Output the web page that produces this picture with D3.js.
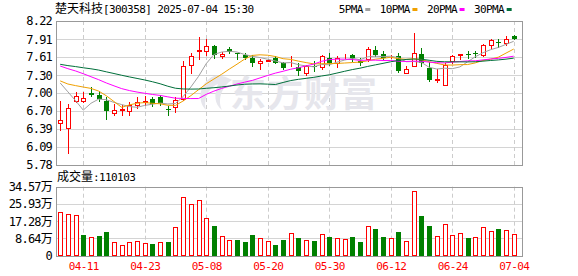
<!DOCTYPE html>
<html>
<head>
<meta charset="utf-8">
<script src="https://cdn.jsdelivr.net/npm/d3@7"></script>
<style>
  html, body { margin: 0; padding: 0; background: #fff; }
  svg { display: block; }
  text { font-family: "DejaVu Sans Mono", "Noto Sans CJK SC", monospace; font-size: 11px; letter-spacing: -0.6px; fill: #000; }
</style>
</head>
<body>
<svg id="chart" width="578" height="276"></svg>
<script>
const title = "楚天科技[300358] 2025-07-04 15:30";

const dates = [
  "04-08", "04-09", "04-10", "04-11", "04-14", "04-15", "04-16", "04-17", "04-18", "04-21",
  "04-22", "04-23", "04-24", "04-25", "04-28", "04-29", "04-30", "05-06", "05-07", "05-08",
  "05-09", "05-12", "05-13", "05-14", "05-15", "05-16", "05-19", "05-20", "05-21", "05-22",
  "05-23", "05-26", "05-27", "05-28", "05-29", "05-30", "06-03", "06-04", "06-05", "06-06",
  "06-09", "06-10", "06-11", "06-12", "06-13", "06-16", "06-17", "06-18", "06-19", "06-20",
  "06-23", "06-24", "06-25", "06-26", "06-27", "06-30", "07-01", "07-02", "07-03", "07-04"
];

const open = [
  6.49, 6.40, 6.87, 6.87, 7.00, 6.97, 6.87, 6.66, 6.72, 6.69,
  6.79, 6.85, 6.89, 6.93, 6.73, 6.76, 6.89, 7.47, 7.72, 7.71,
  7.79, 7.62, 7.74, 7.67, 7.65, 7.59, 7.50, 7.55, 7.59, 7.50,
  7.52, 7.44, 7.34, 7.46, 7.44, 7.59, 7.51, 7.62, 7.64, 7.55,
  7.58, 7.73, 7.66, 7.62, 7.63, 7.34, 7.45, 7.66, 7.43, 7.225,
  7.14, 7.54, 7.65, 7.66, 7.67, 7.64, 7.82, 7.86, 7.84, 7.96
];
const high = [
  6.86, 6.82, 7.02, 7.01, 7.10, 7.03, 6.93, 6.81, 6.80, 6.85,
  6.93, 6.95, 6.93, 6.96, 6.78, 6.93, 7.55, 7.67, 7.95, 7.92,
  7.81, 7.70, 7.78, 7.68, 7.67, 7.64, 7.58, 7.57, 7.62, 7.53,
  7.62, 7.50, 7.48, 7.54, 7.65, 7.68, 7.63, 7.66, 7.66, 7.59,
  7.78, 7.80, 7.71, 7.64, 7.67, 7.46, 8.02, 7.76, 7.52, 7.41,
  7.51, 7.64, 7.66, 7.71, 7.72, 7.83, 7.91, 7.92, 7.97, 7.98
];
const low = [
  6.38, 5.99, 6.85, 6.85, 6.95, 6.87, 6.56, 6.62, 6.63, 6.63,
  6.75, 6.80, 6.78, 6.80, 6.63, 6.68, 6.88, 7.34, 7.58, 7.64,
  7.59, 7.60, 7.67, 7.58, 7.57, 7.46, 7.41, 7.54, 7.50, 7.41,
  7.46, 7.31, 7.30, 7.38, 7.40, 7.48, 7.44, 7.59, 7.54, 7.48,
  7.55, 7.62, 7.57, 7.60, 7.35, 7.34, 7.45, 7.45, 7.21, 7.19,
  7.13, 7.50, 7.57, 7.59, 7.61, 7.62, 7.76, 7.78, 7.81, 7.91
];
const close = [
  6.55, 6.75, 6.95, 6.91, 6.97, 6.90, 6.70, 6.72, 6.73, 6.80,
  6.84, 6.86, 6.82, 6.83, 6.72, 6.88, 7.45, 7.63, 7.73, 7.80,
  7.65, 7.66, 7.70, 7.66, 7.59, 7.50, 7.55, 7.56, 7.51, 7.43,
  7.53, 7.37, 7.45, 7.44, 7.63, 7.50, 7.59, 7.63, 7.59, 7.51,
  7.74, 7.65, 7.59, 7.63, 7.38, 7.40, 7.67, 7.51, 7.22, 7.23,
  7.47, 7.63, 7.66, 7.65, 7.66, 7.81, 7.89, 7.85, 7.91, 7.92
];
// closes of the 29 sessions before 04-08, estimated from where the MA lines start
const earlierCloses = [
  7.40, 7.45, 7.52, 7.48, 7.55, 7.60, 7.58, 7.62, 7.63, 7.61,
  7.65, 7.72, 7.85, 7.98, 7.90, 7.82, 7.70, 7.67, 7.45, 7.35,
  7.28, 7.22, 7.15, 7.20, 7.35, 7.50, 7.70, 7.71, 6.39
];
// 万
const volume = [
  21.8, 20.8, 20.3, 10.4, 9.3, 9.9, 11.9, 6.8, 5.3, 6.8,
  7.3, 6.3, 5.9, 6.8, 6.9, 14.3, 29.3, 25.8, 27.8, 18.8,
  14.9, 9.8, 7.8, 7.9, 6.9, 10.4, 8.8, 7.3, 5.4, 7.9,
  11.3, 8.9, 7.8, 7.4, 10.8, 9.4, 8.8, 8.3, 9.4, 6.6,
  14.8, 13.4, 9.4, 8.8, 11.9, 7.4, 32.3, 19.9, 14.9, 9.8,
  15.9, 10.3, 11.4, 8.9, 9.3, 14.3, 12.3, 13.4, 12.8, 11.0103
];
const lastVolume = "110103";

const priceTicks = [5.78, 6.09, 6.39, 6.70, 7.00, 7.30, 7.61, 7.91, 8.22];
const volumeTicks = [0, 8.64, 17.28, 25.93, 34.57];
const dateTicks = ["04-11", "04-23", "05-08", "05-20", "05-30", "06-12", "06-24", "07-04"];

const maPeriods = [5, 10, 20, 30];
const maNames = ["5PMA", "10PMA", "20PMA", "30PMA"];
const maColors = ["#a0a0a0", "#f0a000", "#ff00ff", "#006f3a"];

const UP = "#ff0000";
const DOWN = "#008000";

const svg = d3.select("#chart");
const left = 56, right = 522;
const priceTop = 21, priceBottom = 165;
const volTop = 186.7, volBottom = 255.6;

const x = d3.scalePoint().domain(dates).range([60.2, 513.7]);
const yPrice = d3.scaleLinear().domain([5.78, 8.22]).range([priceBottom, priceTop]);
const yVol = d3.scaleLinear().domain([0, 34.57]).range([volBottom, volTop]);

const crisp = (v) => Math.round(v) + 0.5;

const allCloses = earlierCloses.concat(close);
const offset = earlierCloses.length;
const maSeries = maPeriods.map((n) =>
  close.map((_, i) => d3.mean(allCloses.slice(offset + i - n + 1, offset + i + 1)))
);

// grid
const grid = svg.append("g");
grid.selectAll("line.hp")
  .data(priceTicks.slice(1, -1))
  .join("line")
  .attr("x1", left).attr("x2", right)
  .attr("y1", (d) => crisp(yPrice(d))).attr("y2", (d) => crisp(yPrice(d)))
  .attr("stroke", "#d4d4d4");
grid.selectAll("line.hv")
  .data(volumeTicks.slice(1, -1))
  .join("line")
  .attr("x1", left).attr("x2", right)
  .attr("y1", (d) => crisp(yVol(d))).attr("y2", (d) => crisp(yVol(d)))
  .attr("stroke", "#d4d4d4");
[[priceTop, priceBottom], [volTop, volBottom]].forEach(([t, b]) => {
  grid.append("g").selectAll("line")
    .data(dateTicks)
    .join("line")
    .attr("x1", (d) => crisp(x(d))).attr("x2", (d) => crisp(x(d)))
    .attr("y1", t).attr("y2", b)
    .attr("stroke", "#cccccc")
    .attr("stroke-dasharray", "4,3");
});

// watermark
const mark = svg.append("g").attr("fill", "#e6e6ec");
mark.append("path")
  .attr("d", "M 214,76 C 200,82 196,100 206,110 C 203,100 208,88 218,84 C 214,94 214,104 222,110 C 217,100 222,86 232,80 C 226,76 220,75 214,76 Z");
mark.append("text")
  .attr("x", 230).attr("y", 107)
  .style("font-family", "Noto Sans CJK SC")
  .style("font-size", "36px")
  .style("font-weight", "bold")
  .style("letter-spacing", "1px")
  .style("fill", "#e6e6ec")
  .text("东方财富");

// borders
svg.append("rect")
  .attr("x", left + 0.5).attr("y", priceTop + 0.5)
  .attr("width", right - left).attr("height", priceBottom - priceTop)
  .attr("fill", "none").attr("stroke", "#999");
svg.append("rect")
  .attr("x", left + 0.5).attr("y", Math.round(volTop) + 0.5)
  .attr("width", right - left).attr("height", Math.round(volBottom) - Math.round(volTop))
  .attr("fill", "none").attr("stroke", "#999");

// candles
const candles = svg.append("g")
  .selectAll("g")
  .data(dates.map((d, i) => ({ d, o: open[i], h: high[i], l: low[i], c: close[i] })))
  .join("g");

candles.append("line")
  .attr("x1", (k) => crisp(x(k.d))).attr("x2", (k) => crisp(x(k.d)))
  .attr("y1", (k) => Math.round(yPrice(k.h))).attr("y2", (k) => Math.round(yPrice(k.l)) + 1)
  .attr("stroke", (k) => (k.c >= k.o ? UP : DOWN));

candles.append("rect")
  .each(function (k) {
    const cx = Math.round(x(k.d));
    const top = Math.round(yPrice(Math.max(k.o, k.c)));
    const bottom = Math.round(yPrice(Math.min(k.o, k.c)));
    const r = d3.select(this);
    if (k.c >= k.o) {
      r.attr("x", cx - 2 + 0.5).attr("width", 5 - 1)
        .attr("y", top + 0.5).attr("height", Math.max(bottom - top, 0))
        .attr("fill", "#fff").attr("stroke", UP);
    } else {
      r.attr("x", cx - 2).attr("width", 5)
        .attr("y", top).attr("height", Math.max(bottom - top, 1))
        .attr("fill", DOWN);
    }
  });

// moving averages
const maLine = d3.line()
  .x((v, i) => x(dates[i]))
  .y((v) => yPrice(v));
svg.append("g")
  .selectAll("path")
  .data(maSeries)
  .join("path")
  .attr("d", maLine)
  .attr("fill", "none")
  .attr("stroke", (s, i) => maColors[i])
  .attr("stroke-width", 1);

// volume
svg.append("g")
  .selectAll("rect")
  .data(volume)
  .join("rect")
  .each(function (v, i) {
    const prev = i === 0 ? earlierCloses[earlierCloses.length - 1] : close[i - 1];
    const up = close[i] >= prev;
    const cx = Math.round(x(dates[i]));
    const top = Math.round(yVol(v));
    const bottom = Math.round(volBottom);
    const r = d3.select(this);
    if (up) {
      r.attr("x", cx - 2 + 0.5).attr("width", 4)
        .attr("y", top + 0.5).attr("height", bottom - top - 1)
        .attr("fill", "#fff").attr("stroke", UP);
    } else {
      r.attr("x", cx - 2).attr("width", 5)
        .attr("y", top).attr("height", bottom - top)
        .attr("fill", DOWN);
    }
  });

// axes
const priceAxis = svg.append("g")
  .attr("transform", `translate(${left},0)`)
  .call(d3.axisLeft(yPrice).tickValues(priceTicks).tickSize(0).tickPadding(4).tickFormat(d3.format(".2f")));
const volAxis = svg.append("g")
  .attr("transform", `translate(${left},0)`)
  .call(d3.axisLeft(yVol).tickValues(volumeTicks).tickSize(0).tickPadding(4)
    .tickFormat((v) => (v === 0 ? "0" : v.toFixed(2) + "万")));
const dateAxis = svg.append("g")
  .attr("transform", `translate(0,${volBottom})`)
  .call(d3.axisBottom(x).tickValues(dateTicks).tickSize(0).tickPadding(6.5));
[priceAxis, volAxis, dateAxis].forEach((a) => {
  a.select(".domain").remove();
  a.selectAll("text").attr("font-family", null).attr("font-size", null);
});
priceAxis.selectAll("text").style("font-size", "12px").style("letter-spacing", "-0.8px");
volAxis.selectAll("text").style("font-size", "12px").style("letter-spacing", "-0.8px");
dateAxis.selectAll("text").style("fill", "#ff0000");

// title
const t = svg.append("text").attr("x", 55).attr("y", 13);
t.append("tspan").style("font-family", "Noto Sans CJK SC").style("font-size", "12px").style("letter-spacing", "0px").text(title.slice(0, 4));
t.append("tspan").text(title.slice(4));

const vt = svg.append("text").attr("x", 57).attr("y", 181);
vt.append("tspan").style("font-family", "Noto Sans CJK SC").style("font-size", "12px").style("letter-spacing", "0px").text("成交量");
vt.append("tspan").text(":" + lastVolume);

// legend
let lx = 338.7;
maNames.forEach((name, i) => {
  const txt = svg.append("text").attr("x", lx).attr("y", 12.5).text(name);
  const w = txt.node().getComputedTextLength();
  svg.append("rect")
    .attr("x", lx + w + 2.5).attr("y", 8)
    .attr("width", 5).attr("height", 3)
    .attr("fill", maColors[i]);
  lx += w + 2.5 + 5 + 9.5;
});
</script>
</body>
</html>
